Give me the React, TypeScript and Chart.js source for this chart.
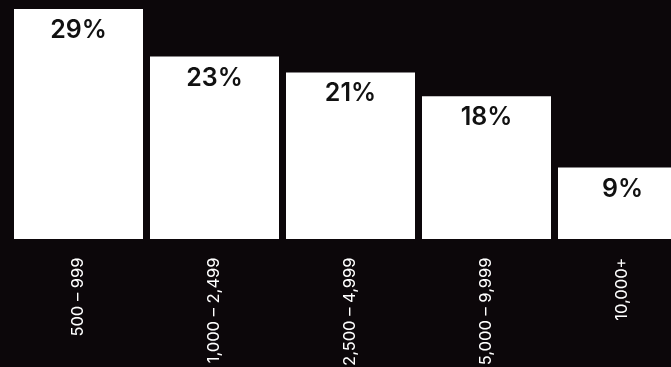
import React, { useEffect, useRef } from "react";
import { Chart, registerables } from "chart.js";

Chart.register(...registerables);

const categories = ["500 – 999", "1,000 – 2,499", "2,500 – 4,999", "5,000 – 9,999", "10,000+"];
const shares = [29, 23, 21, 18, 9];

const BG = "#0c070a";

const valueLabels = {
  id: "valueLabels",
  afterDatasetsDraw(chart: any) {
    const ctx = chart.ctx;
    const meta = chart.getDatasetMeta(0);
    ctx.save();
    ctx.fillStyle = "#111111";
    ctx.font = "600 25px Inter, 'Noto Sans', sans-serif";
    ctx.textAlign = "center";
    ctx.textBaseline = "middle";
    meta.data.forEach((bar: any, i: number) => {
      ctx.fillText(shares[i] + "%", bar.x, bar.y + 21.5);
    });
    ctx.restore();
  },
};

export default function App() {
  const ref = useRef<HTMLCanvasElement>(null);
  useEffect(() => {
    document.body.style.margin = "0";
    document.body.style.overflow = "hidden";
    document.body.style.background = BG;
    const chart = new Chart(ref.current!, {
      type: "bar",
      data: {
        labels: categories,
        datasets: [
          {
            data: shares,
            backgroundColor: "#ffffff",
            borderWidth: 0,
            barPercentage: 129 / 136,
            categoryPercentage: 1,
          },
        ],
      },
      options: {
        animation: false,
        responsive: false,
        maintainAspectRatio: false,
        layout: { padding: { left: 10.5, right: 9.5, top: 9, bottom: 0 } },
        plugins: { legend: { display: false }, tooltip: { enabled: false } },
        scales: {
          x: {
            grid: { display: false, drawTicks: false },
            border: { display: false },
            ticks: {
              color: "#ffffff",
              font: { family: "Inter, 'Noto Sans', sans-serif", size: 16.5, weight: 400 },
              minRotation: 90,
              maxRotation: 90,
              padding: 18.5,
              autoSkip: false,
            },
            afterFit(scale: any) {
              scale.height = 128;
            },
          },
          y: {
            display: false,
            min: 0,
            max: 29,
          },
        },
      },
      plugins: [valueLabels],
    });
    return () => chart.destroy();
  }, []);
  return (
    <div style={{ width: 671, height: 367, overflow: "hidden", background: BG }}>
      <canvas ref={ref} width={700} height={367} style={{ display: "block" }} />
    </div>
  );
}
